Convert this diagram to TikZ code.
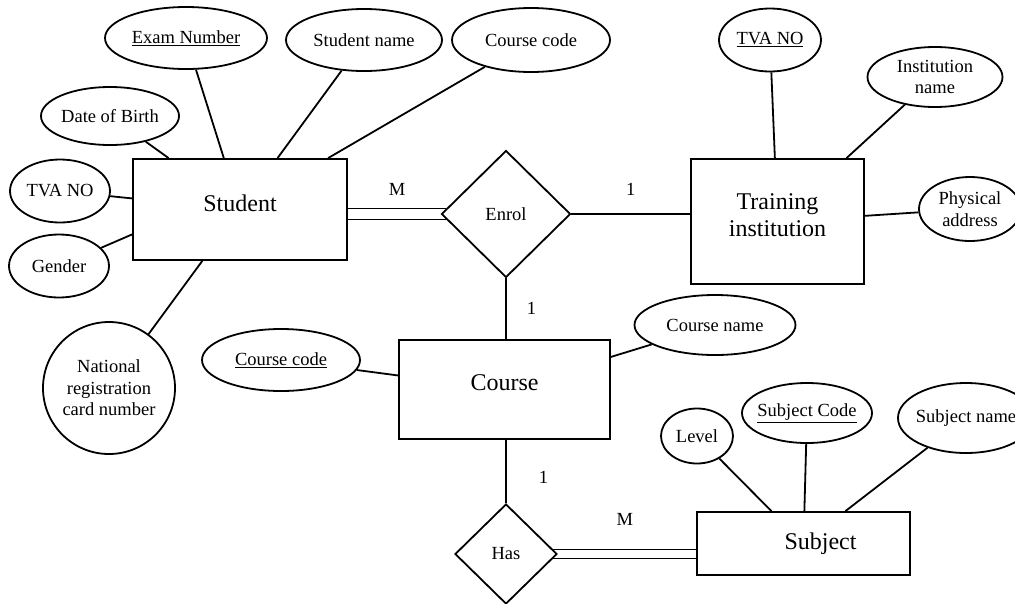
\documentclass[tikz,border=0pt]{standalone}
\usepackage{fontspec}
\setmainfont{Liberation Serif}
\usepackage{tikz}
\usetikzlibrary{shapes.geometric,calc}
\newcommand{\attrsize}{\fontsize{18.5}{21.5}\selectfont}
\newcommand{\entsize}{\fontsize{24}{27}\selectfont}
\tikzset{
  ent/.style={draw,rectangle,line width=1.8pt,inner sep=0pt,align=center,font=\entsize},
  attr/.style={draw,ellipse,line width=1.8pt,inner sep=0pt,align=center,font=\attrsize},
  rel/.style={draw,diamond,aspect=1,line width=1.8pt,inner sep=0pt,font=\attrsize},
  link/.style={line width=1.8pt},
  card/.style={font=\attrsize,inner sep=0pt},
}

\begin{document}
\begin{tikzpicture}[x=1pt,y=-1pt]
\useasboundingbox (0,0) rectangle (1015,603);

% ==== entities ====
\node[ent,minimum width=214,minimum height=101,text depth=13pt] (stud) at (240,209.5) {Student};
\node[ent,minimum width=173,minimum height=125,text depth=13pt] (train) at (777.5,221.5) {Training\\institution};
\node[ent,minimum width=211,minimum height=99,text depth=13pt] (course) at (504.5,389.5) {Course};
\node[ent,minimum width=213,minimum height=63] (subj) at (803.5,543.5) {\hspace*{34pt}Subject};

% ==== relationships ====
\node[rel,minimum width=129,minimum height=127] (enrol) at (506,214) {Enrol};
\node[rel,minimum width=102,minimum height=100] (has) at (506,554) {Has};

% ==== student attributes ====
\node[attr,minimum width=162,minimum height=62] (sExam) at (186,38) {\underline{Exam Number}};
\node[attr,minimum width=156,minimum height=62] (sName) at (364,40) {Student name};
\node[attr,minimum width=158,minimum height=64] (sCode) at (531,40) {Course code};
\node[attr,minimum width=138,minimum height=58] (sDob) at (110,116) {Date of Birth};
\node[attr,minimum width=100,minimum height=63] (sTva) at (60,191) {TVA NO};
\node[attr,minimum width=100,minimum height=63] (sGender) at (59,266) {Gender};
\node[attr,circle,minimum size=132] (sNrc) at (109,388) {National\\registration\\card number};

% ==== institution attributes ====
\node[attr,minimum width=102,minimum height=63] (tTva) at (770,40) {\underline{TVA NO}};
\node[attr,minimum width=135,minimum height=60] (tName) at (935,77) {Institution\\name};
\node[attr,minimum width=102,minimum height=64] (tAddr) at (970,209) {Physical\\address};

% ==== course attributes ====
\node[attr,minimum width=158,minimum height=62] (cCode) at (281,360) {\underline{Course code}};
\node[attr,minimum width=161,minimum height=60] (cName) at (715,325) {Course name};

% ==== subject attributes ====
\node[attr,minimum width=72,minimum height=55] (jLevel) at (697,436) {Level};
\node[attr,minimum width=130,minimum height=60,inner xsep=-4pt] (jCode) at (807,413) {\underline{Subject Code}};
\node[attr,minimum width=122,minimum height=70,inner xsep=-2pt] (jName) at (966,418) {Subject name};

% ==== attribute links ====
\foreach \a in {sExam,sName,sCode,sDob,sTva,sNrc}
  \draw[link] (\a) -- (stud);
\draw[link] (sGender) -- (stud.193);
\foreach \a in {tTva,tName,tAddr}
  \draw[link] (\a) -- (train);
\foreach \a in {cCode,cName}
  \draw[link] (\a) -- (course);
\foreach \a in {jLevel,jCode,jName}
  \draw[link] (\a) -- (subj);

% ==== Student = Enrol (double, M) ====
\draw[link] ($(stud.east |- enrol.west)+(0,-5.5)$) -- ($(enrol.west)+(5.5,-5.5)$)
  node[card,midway,above=12pt]{M};
\draw[link] ($(stud.east |- enrol.west)+(0,5.5)$) -- ($(enrol.west)+(5.5,5.5)$);

% ==== Enrol -- Training institution (1) ====
\draw[link] (enrol.east) -- (enrol.east -| train.west)
  node[card,midway,above=18pt]{1};

% ==== Enrol -- Course (1) ====
\draw[link] (enrol.south) -- (enrol.south |- course.north)
  node[card,midway,right=20pt]{1};

% ==== Course -- Has (1) ====
\draw[link] (course.south -| has.north) -- (has.north)
  node[card,pos=0.6,right=32pt]{1};

% ==== Has = Subject (double, M) ====
\draw[link] ($(has.east)+(-4.5,-4.5)$) -- ($(has.east -| subj.west)+(0,-4.5)$)
  node[card,midway,above=23pt]{M};
\draw[link] ($(has.east)+(-4.5,4.5)$) -- ($(has.east -| subj.west)+(0,4.5)$);

\end{tikzpicture}
\end{document}
